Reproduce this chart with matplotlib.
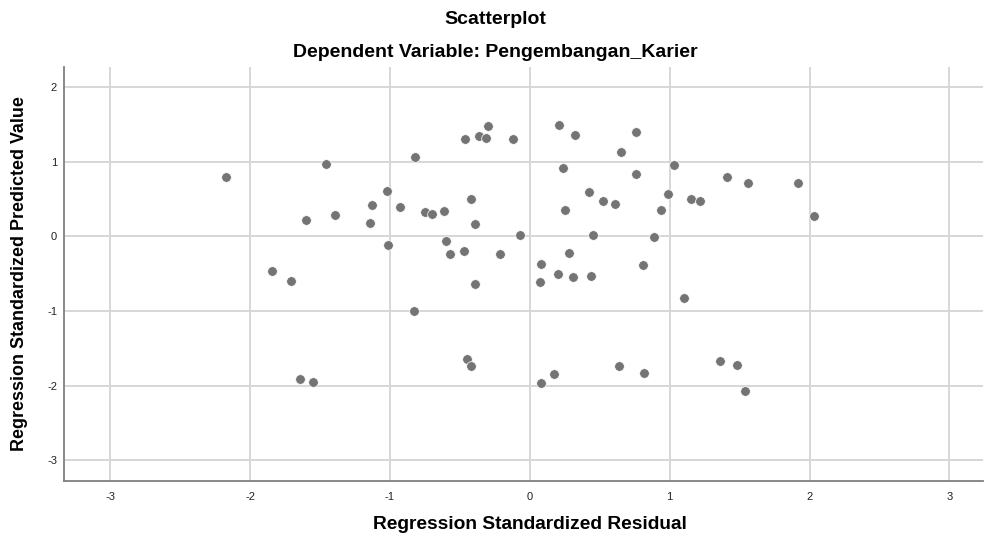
import matplotlib
matplotlib.use("Agg")
import matplotlib.pyplot as plt

# Regression standardized residual (x) vs standardized predicted value (y)
residual = [-2.17, -1.46, -1.60, -1.39, -1.84, -1.71, -1.64, -1.55,
            -1.13, -1.14, -1.02, -1.01, -0.93, -0.82, -0.75, -0.70,
            -0.61, -0.60, -0.57, -0.47, -0.46, -0.42, -0.39, -0.36,
            -0.31, -0.30, -0.21, -0.12, -0.07, 0.08, 0.07, 0.21,
            0.24, 0.25, 0.28, 0.20, 0.32, 0.31, 0.44, 0.42,
            0.45, 0.52, 0.61, 0.65, 0.76, 0.76, 0.81, 0.89,
            0.94, 0.99, 1.03, 1.15, 1.22, 1.41, 1.56, 1.92,
            2.03, -0.83, -0.39, -0.45, -0.42, 0.08, 0.17, 0.64,
            0.82, 1.10, 1.36, 1.48, 1.54]
predicted = [0.80, 0.97, 0.22, 0.29, -0.46, -0.60, -1.91, -1.95,
             0.42, 0.18, 0.61, -0.12, 0.40, 1.07, 0.32, 0.30,
             0.34, -0.06, -0.24, -0.20, 1.31, 0.50, 0.16, 1.34,
             1.32, 1.48, -0.24, 1.31, 0.02, -0.37, -0.61, 1.49,
             0.92, 0.35, -0.22, -0.50, 1.36, -0.55, -0.53, 0.59,
             0.02, 0.47, 0.43, 1.13, 1.40, 0.84, -0.38, -0.01,
             0.36, 0.57, 0.96, 0.50, 0.47, 0.79, 0.71, 0.71,
             0.27, -1.00, -0.64, -1.64, -1.74, -1.97, -1.85, -1.74,
             -1.83, -0.83, -1.67, -1.73, -2.07]

x_ticks = [-3, -2, -1, 0, 1, 2, 3]
y_ticks = [-3, -2, -1, 0, 1, 2]

plt.rcParams["font.family"] = ["Liberation Sans", "DejaVu Sans"]
plt.rcParams["axes.unicode_minus"] = False

fig = plt.figure(figsize=(9.84, 5.39), dpi=100)
ax = fig.add_axes([0.065, 0.1076, 0.934, 0.768])

ax.scatter(residual, predicted, s=48, color="#747474", edgecolors="white",
           linewidths=0.5, zorder=3)

ax.set_xlim(-3.33, 3.24)
ax.set_ylim(-3.28, 2.27)
ax.set_xticks(x_ticks)
ax.set_yticks(y_ticks)
ax.tick_params(length=0, labelsize=8, colors="#222222")
ax.tick_params(axis="x", pad=8)
ax.tick_params(axis="y", pad=5)
ax.grid(True, color="#d4d4d4", linewidth=1.3, zorder=0)
ax.set_axisbelow(True)

for side in ["top", "right"]:
    ax.spines[side].set_visible(False)
for side in ["left", "bottom"]:
    ax.spines[side].set_color("#808080")
    ax.spines[side].set_linewidth(1.3)

ax.set_xlabel("Regression Standardized Residual", fontsize=13.8,
              fontweight="bold", va="center")
ax.xaxis.set_label_coords(0.507, -0.104)
ax.set_ylabel("Regression Standardized Predicted Value", fontsize=12.9,
              fontweight="bold", va="center")
ax.yaxis.set_label_coords(-0.048, 0.5)

fig.text(0.503, 0.9636, "Scatterplot", ha="center", va="center",
         fontsize=14, fontweight="bold")
fig.text(0.503, 0.9024, "Dependent Variable: Pengembangan_Karier", ha="center",
         va="center", fontsize=14, fontweight="bold")

fig.savefig("out.png", dpi=100)
